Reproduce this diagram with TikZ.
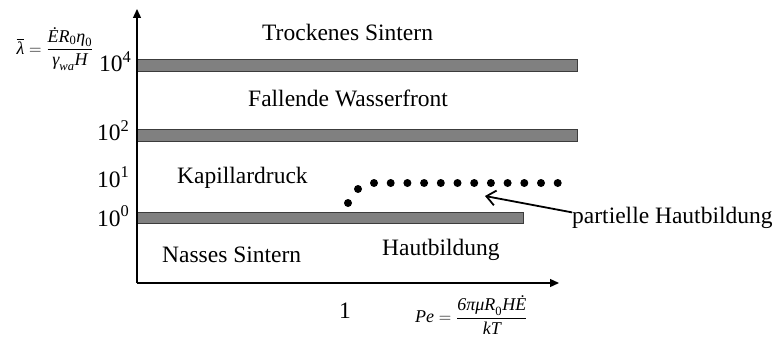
\documentclass[tikz,border=0pt]{standalone}
\usepackage{amsmath}
\usepackage{fontspec}
\setmainfont{Liberation Serif}
\usetikzlibrary{arrows.meta,positioning}
\definecolor{barfill}{RGB}{128,128,128}
\definecolor{baredge}{RGB}{60,60,60}

\begin{document}
\begin{tikzpicture}[x=1pt,y=-1pt,
            >=Triangle,
            lbl/.style={font=\fontsize{23.5}{28}\selectfont, inner sep=0pt, anchor=base west},
            frm/.style={font=\fontsize{18}{21}\selectfont, inner sep=0pt},
            band/.style={draw=baredge, fill=barfill, line width=1pt},
            axis/.style={->, line width=1.3pt, >={Triangle[length=9pt,width=8pt]}},
            drop/.style={circle, fill=black, inner sep=0pt, minimum size=8pt},
            hint/.style={->, line width=1.8pt, >={Straight Barb[length=9pt,width=15pt]}}
          ]
          \useasboundingbox (0,0) rectangle (778,339);
          % Grenzen zwischen den Bereichen
          \draw[band] (137,60)  rectangle (577,72);
          \draw[band] (137,130) rectangle (577,142);
          \draw[band] (137,212) rectangle (523,223);
          % Achsen
          \coordinate (o)    at (137,283);
          \coordinate (ytop) at (137,9);
          \coordinate (xend) at (559,283);
          \draw[axis] (o) -- (ytop);
          \draw[axis] (o) -- (xend);
          % Achsenbeschriftung
          \node[lbl] (t4) at (99,72)  {10\textsuperscript{4}};
          \node[lbl] (t2) at (97,141) {10\textsuperscript{2}};
          \node[lbl] (t1) at (97,187) {10\textsuperscript{1}};
          \node[lbl] (t0) at (97,226) {10\textsuperscript{0}};
          \node[lbl] (one) at (339,318) {1};
          \node[frm] (lam) at (55,49)
            {$\overline{\textit{λ}} = \dfrac{\textit{\.ER}_{\textup{0}}\textit{η}_{\textup{0}}}{\textit{γ}_{\textit{wa}}\textit{H}}$};
          \node[frm, anchor=west] (pe) at (415,315)
            {$\textit{Pe} = \dfrac{\textit{6πμR}_{\textup{0}}\textit{H\.E}}{\textit{kT}}$};
          % Bereiche
          \node[lbl] (dry)  at (262,41)  {Trockenes Sintern};
          \node[lbl] (fall) at (248,107) {Fallende Wasserfront};
          \node[lbl] (cap)  at (177,183) {Kapillardruck};
          \node[lbl] (wet)  at (162,262) {Nasses Sintern};
          \node[lbl] (skin) at (382,255) {Hautbildung};
          % partielle Hautbildung
          \node[drop] (da) at (348,203) {};
          \node[drop] (db) at (358,189) {};
          \foreach \i in {0,...,11}
            \node[drop] (d\i) at (374+16.7*\i,183) {};
          \node[lbl] (part) at (572,223) {partielle Hautbildung};
          \coordinate (tip) at (485,196);
          \draw[hint] ([yshift=5pt]part.west) -- (tip);
        \end{tikzpicture}
\end{document}
